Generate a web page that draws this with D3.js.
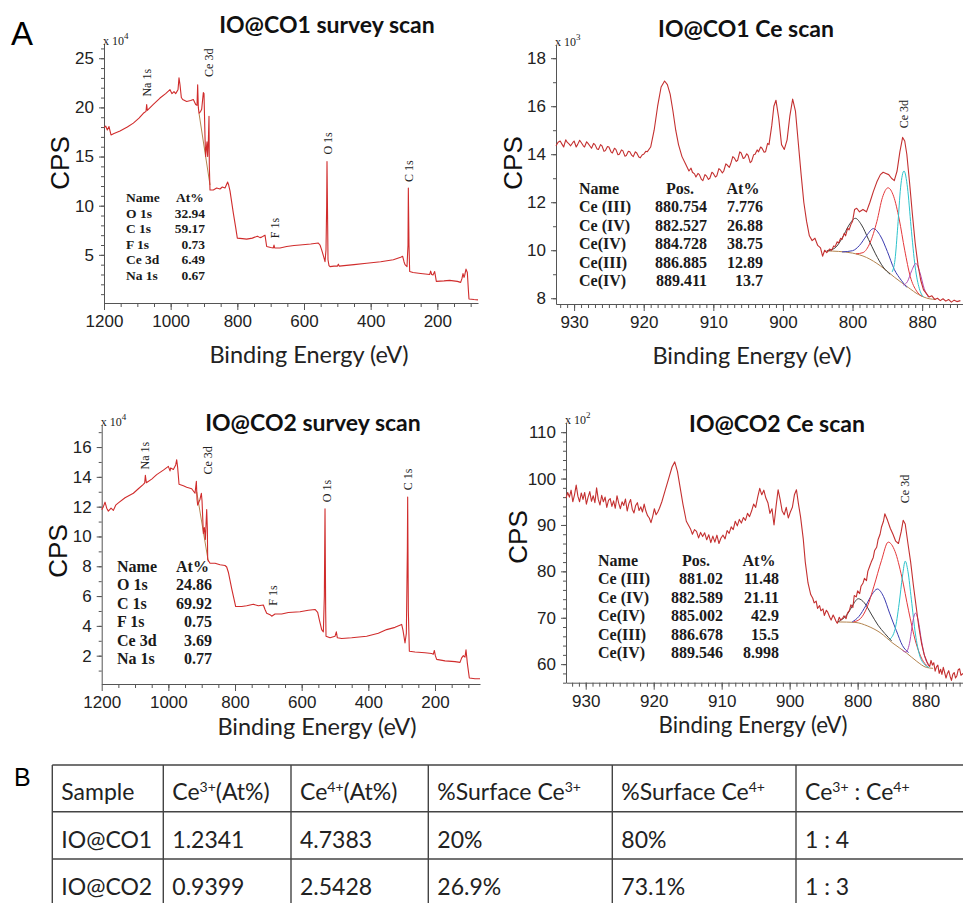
<!DOCTYPE html>
<html>
<head>
<meta charset="utf-8">
<script src="https://cdn.jsdelivr.net/npm/d3@7"></script>
<style>
    body { margin: 0; background: #fff; }
    .axis text { font-family: "Liberation Sans", Arial, sans-serif; font-size: 17px; fill: #222; }
    .axis line, .axis path { stroke: #555; stroke-width: 1; }
    .title { font-family: Lato, sans-serif; font-weight: bold; font-size: 23px; fill: #111; }
    .xLabel { font-family: Lato, sans-serif; font-size: 23.5px; fill: #222; }
    .yLabel { font-family: "Liberation Sans", Arial, sans-serif; font-size: 26px; fill: #111; }
    .note { font-family: "Liberation Serif", "Times New Roman", serif; fill: #222; }
    .fitTable { font-family: "Liberation Serif", "Times New Roman", serif; font-weight: bold; fill: #1a1a1a; }
    .tbl { font-family: Lato, sans-serif; font-size: 23px; fill: #222; }
</style>
</head>
<body>
<div id="figure"></div>
<script>

// ---------- survey scans (binding energy eV, CPS x10^4) ----------
const survey1 = [[1200,17.95],[1195,18.1],[1190,17.7],[1185,18.05],[1179,17.2],[1170,17.35],[1152,17.6],[1130,18.0],[1112,18.4],
    [1095,18.9],[1082,19.4],[1074,19.6],[1072,20.3],[1070,19.7],[1052,20.3],[1032,20.95],[1015,21.4],[1002,21.8],[996,21.4],
    [990,21.6],[985,21.4],[978,21.8],[975,23.0],[972,22.3],[968,21.0],[964,20.8],[952,20.6],[940,20.7],[932,20.8],[925,20.3],
    [921,20.2],[919,22.3],[917,20.0],[915,19.4],[910,19.6],[907,19.8],[902,21.5],[900,21.4],[897,17.0],[895,15.0],[893,15.8],
    [891,16.5],[889,15.0],[887,16.5],[885,19.1],[884,14.0],[882,11.6],[872,11.6],[862,11.8],[852,11.7],[845,11.9],[837,11.8],
    [829,12.4],[826,12.1],[822,11.5],[812,9.25],[805,7.8],[800,6.7],[785,6.65],[772,6.6],[755,6.7],[740,6.9],[737,6.85],
    [732,6.75],[727,6.8],[720,6.95],[717,7.0],[712,5.85],[700,5.75],[692,5.7],[690,6.0],[688,5.7],[672,5.7],[652,5.85],
    [630,5.95],[612,6.0],[580,6.1],[557,6.2],[552,6.0],[547,5.5],[540,4.7],[537,4.3],[534,5.5],[532,10.0],[531,14.5],
    [529,8.0],[528,4.5],[525,3.9],[522,3.8],[510,3.85],[500,3.85],[497,4.05],[494,3.85],[480,3.9],[450,4.0],[412,4.15],
    [370,4.3],[332,4.5],[310,4.75],[304,4.85],[300,4.3],[297,4.0],[291,3.8],[288,6.0],[287,11.8],[285,6.0],[283,3.3],
    [273,3.2],[250,3.1],[223,3.0],[220,3.35],[217,3.0],[213,2.95],[208,3.3],[205,2.7],[203,2.3],[180,2.35],[163,2.4],
    [140,2.3],[130,2.2],[126,2.6],[123,3.1],[120,2.7],[118,2.9],[114,3.55],[110,3.2],[107,1.5],[105,0.5],[90,0.45],[78,0.42]];
const survey1Bg = [[915,19.4],[882,12.1]];

const survey2 = [[1200,11.8],[1195,12.0],[1190,12.3],[1185,11.9],[1180,11.7],[1172,11.9],[1165,11.75],[1158,12.1],[1150,12.25],
    [1130,12.6],[1105,12.9],[1090,13.2],[1075,13.5],[1071,13.6],[1069,14.1],[1066,13.6],[1050,13.85],[1035,14.15],[1015,14.45],
    [1000,14.7],[995,14.4],[993,14.6],[985,14.5],[978,14.8],[975,15.15],[972,14.6],[968,13.5],[955,13.4],[945,13.3],[930,13.2],
    [920,12.9],[916,13.7],[914,12.5],[912,12.1],[905,12.5],[901,12.9],[899,12.4],[895,10.2],[892,10.6],[889,9.8],[887,10.8],
    [885,11.8],[883,10.5],[882,8.45],[875,8.2],[860,8.2],[845,8.1],[830,8.05],[825,7.95],[820,7.6],[810,6.5],[805,6.0],
    [798,5.3],[780,5.3],[765,5.35],[745,5.45],[730,5.35],[715,5.4],[710,5.1],[705,4.85],[695,4.75],[690,4.65],[680,4.8],
    [660,4.8],[640,4.9],[605,4.95],[580,5.05],[560,5.1],[552,4.9],[547,4.4],[540,3.75],[535,3.6],[532,6.0],[530,11.85],
    [528,5.0],[527,3.3],[515,3.2],[500,3.3],[496,3.6],[493,3.2],[480,3.15],[450,3.2],[405,3.3],[370,3.5],[345,3.75],
    [320,3.9],[300,4.1],[296,3.7],[290,2.85],[286,3.5],[283,9.0],[282,12.65],[280,5.0],[277,2.3],[260,2.25],[230,2.2],
    [210,2.15],[205,2.1],[202,2.35],[199,2.0],[195,1.75],[170,1.65],[140,1.6],[125,1.55],[120,1.85],[115,2.0],[110,1.9],
    [107,2.4],[103,1.5],[97,0.5],[80,0.45],[65,0.45]];
const survey2Bg = [[915,13.0],[880,8.3]];

// peak labels: [text, energy, cps at start of text]
const survey1Peaks = [["Na 1s",1072,21.1],["Ce 3d",885,23.1],["F 1s",687,6.7],["O 1s",528,15.2],["C 1s",285,12.4]];
const survey2Peaks = [["Na 1s",1070,14.5],["Ce 3d",881,14.15],["F 1s",686,5.35],["O 1s",524,12.3],["C 1s",281,13.1]];

// quantification tables printed in the survey panels
const survey1Quant = [["O 1s","32.94"],["C 1s","59.17"],["F 1s","0.73"],["Ce 3d","6.49"],["Na 1s","0.67"]];
const survey2Quant = [["O 1s","24.86"],["C 1s","69.92"],["F 1s","0.75"],["Ce 3d","3.69"],["Na 1s","0.77"]];

// ---------- Ce 3d scans ----------
// IO@CO1, CPS x10^3
const ce1 = [[932.6,14.35],[932.3,14.5],[932.0,14.55],[931.7,14.4],[931.5,14.3],[931.2,14.6],[931.0,14.5],[930.7,14.42],
    [930.5,14.35],[930.2,14.48],[930.0,14.55],[929.7,14.3],[929.5,14.4],[929.2,14.58],[929.0,14.5],[928.7,14.36],[928.5,14.3],
    [928.2,14.52],[928.0,14.45],[927.7,14.33],[927.5,14.25],[927.2,14.45],[927.0,14.4],[926.7,14.22],[926.5,14.2],[926.2,14.4],
    [926.0,14.35],[925.7,14.12],[925.5,14.15],[925.2,14.32],[925.0,14.3],[924.7,14.1],[924.5,14.05],[924.2,14.25],[924.0,14.2],
    [923.7,13.98],[923.5,14.0],[923.2,14.18],[923.0,14.15],[922.7,13.92],[922.5,13.95],[922.2,14.12],[922.0,14.1],[921.7,13.95],
    [921.5,13.9],[921.2,14.1],[921.0,14.05],[920.7,13.88],[920.5,13.85],[920.2,13.98],[920.0,14.0],[919.7,14.12],[919.5,14.1],
    [919.0,14.3],[918.5,15.0],[918.0,16.0],[917.5,16.8],[917.0,17.05],[916.6,16.9],[916.2,16.5],[915.8,15.8],
    [915.4,15.0],[915.0,14.4],[914.5,13.9],[914.0,13.6],[913.5,13.3],[913.2,13.42],[913.0,13.25],[912.7,13.18],[912.5,13.05],
    [912.2,13.2],[912.0,13.15],[911.7,12.95],[911.5,12.9],[911.2,13.15],[911.0,13.1],[910.7,12.95],[910.5,13.0],[910.2,13.25],
    [910.0,13.2],[909.7,13.05],[909.5,13.1],[909.2,13.4],[909.0,13.35],[908.7,13.22],[908.5,13.3],[908.2,13.6],[908.0,13.55],
    [907.7,13.45],[907.5,13.6],[907.2,13.9],[907.0,13.85],[906.7,13.7],[906.5,13.75],[906.2,14.1],[906.0,14.05],[905.7,13.82],
    [905.5,13.85],[905.2,14.02],[905.0,13.95],[904.7,13.65],[904.5,13.7],[904.2,13.98],[904.0,14.0],[903.7,14.18],[903.5,14.1],
    [903.2,14.3],[903.0,14.25],[902.7,14.08],[902.5,14.1],[902.2,14.45],[902.0,14.4],[901.6,15.2],[901.3,16.0],[901.0,16.25],
    [900.6,15.5],[900.2,14.4],[899.8,14.2],[899.4,14.6],[899.0,15.6],[898.6,16.3],[898.2,15.8],[897.8,14.5],[897.4,13.2],
    [897.0,12.0],[896.6,11.2],[896.2,10.6],[895.8,10.4],[895.4,10.5],[895.0,10.2],[894.6,10.1],[894.3,9.75],[894.0,10.0],
    [893.7,9.9],[893.3,10.05],[893.0,10.0],[892.7,10.18],[892.5,10.15],[892.2,10.35],[892.0,10.3],[891.7,10.5],[891.5,10.45],
    [891.2,10.7],[891.0,10.6],[890.7,10.92],[890.5,10.85],[890.2,11.1],[890.0,11.2],[889.7,11.7],[889.4,11.75],[889.0,11.6],
    [888.5,11.7],[888.0,11.6],[887.5,12.0],[887.0,12.45],[886.5,12.85],[886.0,13.15],[885.6,13.25],[885.2,13.2],[884.8,13.15],
    [884.4,13.0],[884.0,12.9],[883.6,13.3],[883.2,14.1],[882.8,14.7],[882.5,14.55],[882.2,14.0],[881.8,12.8],[881.4,11.5],
    [881.0,10.3],[880.6,9.4],[880.2,8.75],[879.8,8.35],[879.4,8.2],[879.0,8.05],[878.6,8.1],[878.2,7.95],[877.8,8.0],
    [877.4,7.9],[877.0,7.98],[876.6,7.88],[876.2,7.95],[875.8,7.84],[875.4,7.92],[875.0,7.86],[874.5,7.9]];
const ce1Bg = [[893.7,9.97],[892,9.95],[890,9.88],[888,9.7],[886,9.35],[884,8.88],[882,8.45],[880.5,8.15],[879,7.98],[878,7.95]];
const ce1PeakIV889 = [[893.7,9.97],[892.5,10.1],[891.5,10.5],[890.5,11.05],[889.6,11.33],[888.7,11.05],[887.7,10.45],[886.7,9.85],[885.6,9.3],[884.6,9.0]];
const ce1PeakIII887 = [[891.5,9.93],[890,9.98],[889,10.2],[888,10.6],[887,10.9],[886,10.6],[885,9.95],[884,9.2],[883,8.75],[882.2,8.45]];
const ce1PeakIV885 = [[889.5,9.85],[888.5,9.9],[887.5,10.3],[886.5,11.2],[885.7,12.2],[884.9,12.6],[884.1,12.25],[883.3,11.3],[882.5,10.0],[881.7,8.9],[880.8,8.3],[880,8.08]];
const ce1PeakIV883 = [[884.3,9.1],[883.9,9.6],[883.5,11.0],[883.1,12.6],[882.6,13.3],[882.1,12.6],[881.6,11.0],[881,9.3],[880.4,8.4],[879.8,8.05]];
const ce1PeakIII881 = [[882.7,8.55],[882.1,8.7],[881.5,9.15],[880.9,9.45],[880.3,9.05],[879.7,8.4],[879.1,8.05]];

// IO@CO2, CPS x10^2
const ce2 = [[932.9,95.8],[932.65,97.0],[932.4,96.0],[932.15,97.5],[931.9,95.0],[931.65,96.5],[931.4,98.6],[931.15,96.2],
    [930.9,95.0],[930.65,96.9],[930.4,95.5],[930.15,97.0],[929.9,94.5],[929.65,96.0],[929.4,97.2],[929.15,95.1],[928.9,96.3],
    [928.65,94.8],[928.4,98.0],[928.15,95.5],[927.9,94.3],[927.65,96.4],[927.4,95.0],[927.15,96.0],[926.9,93.8],[926.65,95.3],
    [926.4,95.7],[926.15,94.0],[925.9,95.2],[925.65,93.6],[925.4,96.3],[925.15,94.7],[924.9,93.5],[924.65,95.0],[924.4,94.2],
    [924.15,95.6],[923.9,93.0],[923.65,94.6],[923.4,95.5],[923.15,93.4],[922.9,92.6],[922.65,94.2],[922.4,94.8],[922.15,93.1],
    [921.9,93.9],[921.65,92.8],[921.4,94.5],[921.15,93.0],[920.9,92.0],[920.65,91.5],[920.4,90.5],[920.15,91.8],[919.9,93.5],
    [919.65,92.2],[919.4,92.8],[919.15,93.6],[918.8,95.0],[918.3,97.5],[917.8,100.0],[917.3,102.5],[916.9,103.6],[916.5,101.5],
    [916.1,98.0],[915.7,94.5],[915.2,90.8],[914.9,90.0],[914.6,89.2],[914.3,88.0],[914.0,89.0],[913.7,88.6],[913.4,87.2],
    [913.1,88.4],[912.8,87.5],[912.5,88.3],[912.2,86.8],[911.9,87.9],[911.6,86.2],[911.3,87.6],[911.0,86.3],[910.7,87.8],
    [910.4,86.0],[910.1,87.2],[909.8,87.8],[909.5,87.0],[909.2,88.8],[908.9,88.2],[908.6,89.6],[908.3,89.0],[908.0,90.8],
    [907.7,89.8],[907.4,91.2],[907.1,90.4],[906.8,91.6],[906.5,91.0],[906.2,92.5],[905.9,91.8],[905.6,93.0],[905.3,94.5],
    [905.0,93.8],[904.7,96.0],[904.4,97.9],[904.1,96.5],[903.8,97.5],[903.5,95.8],[903.2,94.8],[902.9,92.5],[902.6,93.5],
    [902.3,90.0],[902.0,94.0],[901.7,97.6],[901.4,95.5],[901.1,93.0],[900.8,92.2],[900.5,93.8],[900.2,91.5],[899.9,92.8],
    [899.6,93.8],[899.3,96.5],[899.0,97.6],[898.7,94.5],[898.4,91.8],[898.0,87.0],[897.7,82.0],[897.3,77.5],[896.9,75.0],
    [896.6,74.2],[896.4,73.2],[896.1,73.6],[895.9,72.0],[895.6,72.6],[895.4,71.5],[895.1,71.9],[894.9,70.5],[894.6,71.6],
    [894.4,71.2],[894.1,70.1],[893.9,69.5],[893.6,70.6],[893.4,70.0],[893.2,69.3],[893.0,68.8],[892.7,70.1],[892.5,69.5],
    [892.2,69.9],[892.0,70.4],[891.7,69.8],[891.5,71.0],[891.2,71.6],[891.0,72.8],[890.7,72.2],[890.5,74.8],[890.2,74.5],
    [890.0,75.8],[889.7,75.2],[889.5,76.8],[889.2,77.5],[889.0,78.5],[888.7,78.0],[888.5,80.0],[888.2,81.2],[888.0,82.0],
    [887.7,83.0],[887.5,84.5],[887.2,85.2],[887.0,86.8],[886.7,88.0],[886.5,89.5],[886.2,90.8],[886.0,92.4],[885.6,91.0],
    [885.2,89.3],[884.8,88.0],[884.4,86.5],[884.0,86.0],[883.6,88.5],[883.3,91.0],[883.0,90.2],[882.6,86.0],[882.2,82.0],
    [881.8,77.0],[881.4,72.5],[881.0,68.0],[880.6,64.5],[880.2,62.0],[879.8,60.5],[879.6,59.9],[879.4,59.5],[879.2,60.8],
    [879.0,59.8],[878.8,60.3],[878.6,58.5],[878.4,59.4],[878.2,59.8],[878.0,58.0],[877.8,58.9],[877.6,57.8],[877.4,59.3],
    [877.2,58.2],[877.0,57.0],[876.8,58.0],[876.6,58.6],[876.4,57.4],[876.2,56.5],[876.0,57.8],[875.8,58.2],[875.6,57.0],
    [875.4,57.5],[875.2,58.8],[875.0,59.0],[874.8,57.6],[874.5,58.0]];
const ce2Bg = [[892.9,69.1],[890.4,69.0],[888.5,68.2],[886.7,66.8],[884.8,64.5],[882.8,62.4],[881.3,60.6],[879.9,59.3],[878.9,59.1]];
const ce2PeakIV890 = [[892.9,69.1],[891.4,71.0],[890.8,72.5],[889.9,74.1],[889.0,73.2],[888.0,70.8],[887.0,68.4],[886.0,66.6],[885.0,65.0]];
const ce2PeakIII887 = [[890.8,69.1],[889.8,70.3],[888.8,72.6],[887.9,75.0],[887.1,76.2],[886.2,74.6],[885.3,71.0],[884.3,67.2],[883.4,64.0],[882.5,62.5]];
const ce2PeakIV885 = [[890.6,69.1],[889.6,69.8],[888.6,72.3],[887.6,76.8],[886.5,82.3],[885.5,86.3],[884.5,84.3],[883.5,78.8],[882.5,71.5],[881.5,65.0],[880.5,61.0],[879.7,59.5]];
const ce2PeakIV883 = [[885.3,65.3],[884.5,67.5],[883.9,73.0],[883.4,79.0],[883.0,82.2],[882.6,80.0],[882.1,74.0],[881.5,66.5],[880.9,62.0],[880.2,60.0],[879.5,59.3]];
const ce2PeakIII881 = [[883.4,63.0],[882.9,62.6],[882.3,65.0],[881.9,69.0],[881.5,71.0],[881.1,69.5],[880.6,65.0],[880.1,61.5],[879.5,59.6]];

// fit result tables: [name, position, at%]
const ce1Fit = [["Ce (III)","880.754","7.776"],["Ce (IV)","882.527","26.88"],["Ce(IV)","884.728","38.75"],["Ce(III)","886.885","12.89"],["Ce(IV)","889.411","13.7"]];
const ce2Fit = [["Ce (III)","881.02","11.48"],["Ce (IV)","882.589","21.11"],["Ce(IV)","885.002","42.9"],["Ce(III)","886.678","15.5"],["Ce(IV)","889.546","8.998"]];

// tick values and their printed labels
const surveyXTicks = [1200, 1000, 800, 600, 400, 200];
const surveyXLabels = ["1200", "1000", "800", "600", "400", "200"];
const ceXTicks = [930, 920, 910, 900, 890, 880];
const ceXLabels = ["930", "920", "910", "900", "800", "880"];
const survey1YTicks = [5, 10, 15, 20, 25];
const survey2YTicks = [2, 4, 6, 8, 10, 12, 14, 16];
const ce1YTicks = [8, 10, 12, 14, 16, 18];
const ce2YTicks = [60, 70, 80, 90, 100, 110];

// table B
const tableHeaders = ["Sample", "Ce|3+|(At%)", "Ce|4+|(At%)", "%Surface Ce|3+|", "%Surface Ce|4+|", "Ce|3+| : Ce|4+|"];
const tableRows = [
    ["IO@CO1", "1.2341", "4.7383", "20%", "80%", "1 : 4"],
    ["IO@CO2", "0.9399", "2.5428", "26.9%", "73.1%", "1 : 3"]
];

const fitColors = ["#3d3d3d", "#3b3bb0", "#e5383b", "#2cc3cc", "#b04cb4"];
const bgColor = "#b3844f";

/* * * * * * * * * * * * * *
*        SpectrumVis        *
* * * * * * * * * * * * * */

class SpectrumVis {

    constructor(svg, cfg) {
        this.svg = svg;
        this.cfg = cfg;
        this.initVis();
    }

    initVis() {
        let vis = this;
        let c = vis.cfg;

        vis.g = vis.svg.append("g");

        vis.x = d3.scaleLinear().domain(c.xDomain).range(c.xRange);
        vis.y = d3.scaleLinear().domain(c.yDomain).range(c.yRange);

        vis.line = d3.line()
            .x(d => vis.x(d[0]))
            .y(d => vis.y(d[1]));

        vis.smooth = d3.line()
            .x(d => vis.x(d[0]))
            .y(d => vis.y(d[1]))
            .curve(d3.curveMonotoneX);

        vis.drawAxes();
        vis.drawLines();
        vis.drawText();
    }

    drawAxes() {
        let vis = this;
        let c = vis.cfg;
        let y0 = c.yRange[0];
        let x0 = c.xRange[0];

        // minor ticks first
        vis.g.append("g")
            .attr("class", "axis")
            .attr("transform", "translate(0," + y0 + ")")
            .call(d3.axisBottom(vis.x).tickValues(c.xMinor).tickSize(4).tickSizeOuter(0).tickFormat(""))
            .call(g => g.select(".domain").remove());

        vis.g.append("g")
            .attr("class", "axis")
            .attr("transform", "translate(0," + y0 + ")")
            .call(d3.axisBottom(vis.x).tickValues(c.xTicks).tickSize(7).tickPadding(5).tickSizeOuter(0)
                .tickFormat((d, i) => c.xTickLabels[i]));

        vis.g.append("g")
            .attr("class", "axis")
            .attr("transform", "translate(" + x0 + ",0)")
            .call(d3.axisLeft(vis.y).tickValues(c.yMinor).tickSize(3).tickSizeOuter(0).tickFormat(""))
            .call(g => g.select(".domain").remove());

        vis.g.append("g")
            .attr("class", "axis")
            .attr("transform", "translate(" + x0 + ",0)")
            .call(d3.axisLeft(vis.y).tickValues(c.yTicks).tickSize(5).tickPadding(5).tickSizeOuter(0));

        // multiplier label, e.g. "x 10^4"
        let m = vis.g.append("text")
            .attr("class", "note")
            .attr("x", x0 - 1)
            .attr("y", c.yRange[1] + 1)
            .style("font-size", "12px");
        m.append("tspan").text("x 10");
        m.append("tspan").attr("dy", -6).style("font-size", "9px").text(c.power);
    }

    drawLines() {
        let vis = this;
        let c = vis.cfg;

        (c.background || []).forEach(bg => {
            vis.g.append("path")
                .datum(bg)
                .attr("fill", "none")
                .attr("stroke", bgColor)
                .attr("stroke-width", 1)
                .attr("d", c.fits ? vis.smooth : vis.line);
        });

        (c.fits || []).forEach((f, i) => {
            vis.g.append("path")
                .datum(f)
                .attr("fill", "none")
                .attr("stroke", fitColors[i])
                .attr("stroke-width", 1)
                .attr("d", vis.smooth);
        });

        vis.g.append("path")
            .datum(c.data)
            .attr("fill", "none")
            .attr("stroke", c.color)
            .attr("stroke-width", 1.1)
            .attr("stroke-linejoin", "round")
            .attr("d", vis.line);
    }

    drawText() {
        let vis = this;
        let c = vis.cfg;

        vis.g.append("text")
            .attr("class", "title")
            .attr("text-anchor", "middle")
            .attr("x", c.title[1])
            .attr("y", c.title[2])
            .text(c.title[0]);

        vis.g.append("text")
            .attr("class", "xLabel")
            .attr("text-anchor", "middle")
            .attr("x", c.xLabelPos[0])
            .attr("y", c.xLabelPos[1])
            .style("font-size", c.xLabelSize + "px")
            .text("Binding Energy (eV)");

        vis.g.append("text")
            .attr("class", "yLabel")
            .attr("text-anchor", "middle")
            .attr("transform", "translate(" + c.yLabelPos[0] + "," + c.yLabelPos[1] + ") rotate(-90)")
            .attr("dy", "0.36em")
            .text("CPS");

        // rotated peak names
        vis.g.selectAll(".peak")
            .data(c.peaks)
            .enter().append("text")
            .attr("class", "note peak")
            .attr("transform", d => "translate(" + vis.x(d[1]) + "," + vis.y(d[2]) + ") rotate(-90)")
            .attr("dy", "0.35em")
            .style("font-size", "12px")
            .text(d => d[0]);

        // quantification table inside the plot
        let t = c.table;
        let head = vis.g.append("g").attr("class", "fitTable").style("font-size", t.size + "px");
        head.append("text").attr("x", t.nameX).attr("y", t.top).text("Name");
        t.headers.forEach((h, i) => {
            head.append("text")
                .attr("x", h[1]).attr("y", t.top)
                .attr("text-anchor", h[2])
                .text(h[0]);
        });
        t.rows.forEach((r, j) => {
            let yy = t.top + (j + 1) * t.step;
            head.append("text").attr("x", t.nameX).attr("y", yy).text(r[0]);
            t.colRight.forEach((xr, k) => {
                head.append("text")
                    .attr("x", xr).attr("y", yy)
                    .attr("text-anchor", "end")
                    .text(r[k + 1]);
            });
        });
    }
}

let svg = d3.select("#figure").append("svg")
    .attr("width", 963)
    .attr("height", 903)
    .style("display", "block")
    .style("background", "#fff");

let survey1Vis = new SpectrumVis(svg, {
    data: survey1, color: "#d02c2c", background: [survey1Bg],
    xDomain: [1200, 78], xRange: [104, 478],
    yDomain: [0.1, 26.5], yRange: [303, 43.5],
    xTicks: surveyXTicks, xTickLabels: surveyXLabels, xMinor: d3.range(1150, 78, -50),
    yTicks: survey1YTicks, yMinor: d3.range(1, 27, 1), power: "4",
    title: ["IO@CO1 survey scan", 327, 33], xLabelPos: [309, 363], xLabelSize: 23.5, yLabelPos: [60, 163],
    peaks: survey1Peaks,
    table: { size: 13.5, nameX: 126, top: 202, step: 15.6, headers: [["At%", 176, "start"]],
        colRight: [205], rows: survey1Quant }
});

let ce1Vis = new SpectrumVis(svg, {
    data: ce1, color: "#c43030", background: [ce1Bg],
    fits: [ce1PeakIV889, ce1PeakIII887, ce1PeakIV885, ce1PeakIV883, ce1PeakIII881],
    xDomain: [932.6, 874], xRange: [556, 963.9],
    yDomain: [7.76, 18.55], yRange: [304, 45],
    xTicks: ceXTicks, xTickLabels: ceXLabels, xMinor: d3.range(932, 874, -1),
    yTicks: ce1YTicks, yMinor: d3.range(8, 19, 1), power: "3",
    title: ["IO@CO1 Ce scan", 746, 37], xLabelPos: [752, 364], xLabelSize: 23.5, yLabelPos: [513, 163],
    peaks: [["Ce 3d", 882.7, 15.08]],
    table: { size: 16, nameX: 579, top: 194, step: 18.4, headers: [["Pos.", 680, "middle"], ["At%", 743, "middle"]],
        colRight: [707, 763], rows: ce1Fit }
});

let survey2Vis = new SpectrumVis(svg, {
    data: survey2, color: "#d02c2c", background: [survey2Bg],
    xDomain: [1200, 65], xRange: [101.7, 480],
    yDomain: [0.1, 17.5], yRange: [684, 424.7],
    xTicks: surveyXTicks, xTickLabels: surveyXLabels, xMinor: d3.range(1150, 65, -50),
    yTicks: survey2YTicks, yMinor: d3.range(1, 18, 1), power: "4",
    title: ["IO@CO2 survey scan", 313, 431], xLabelPos: [317, 735], xLabelSize: 23.5, yLabelPos: [58, 551],
    peaks: survey2Peaks,
    table: { size: 16, nameX: 117, top: 572, step: 18.4, headers: [["At%", 176, "start"]],
        colRight: [212], rows: survey2Quant }
});

let ce2Vis = new SpectrumVis(svg, {
    data: ce2, color: "#c43030", background: [ce2Bg],
    fits: [ce2PeakIV890, ce2PeakIII887, ce2PeakIV885, ce2PeakIV883, ce2PeakIII881],
    xDomain: [932.9, 874.5], xRange: [566, 963],
    yDomain: [56, 112], yRange: [682.7, 422.9],
    xTicks: ceXTicks, xTickLabels: ceXLabels, xMinor: d3.range(932, 874, -1),
    yTicks: ce2YTicks, yMinor: d3.range(56, 112, 2), power: "2",
    title: ["IO@CO2 Ce scan", 777, 432], xLabelPos: [753, 733], xLabelSize: 22.3, yLabelPos: [518, 537],
    peaks: [["Ce 3d", 883.0, 94.7]],
    table: { size: 16, nameX: 598, top: 566, step: 18.4, headers: [["Pos.", 696, "middle"], ["At%", 759, "middle"]],
        colRight: [723, 779], rows: ce2Fit }
});

// panel letters
svg.append("text").attr("x", 11).attr("y", 45)
    .style("font-family", "Liberation Sans, Arial, sans-serif").style("font-size", "33px").text("A");
svg.append("text").attr("x", 14).attr("y", 786)
    .style("font-family", "Liberation Sans, Arial, sans-serif").style("font-size", "25px").text("B");

// ---------- table B ----------
const colX = [52.3, 163.3, 291, 428.3, 612.3, 796];
const rowY = [765, 811.7, 859, 906];
let tbl = svg.append("g");

rowY.forEach(y => {
    tbl.append("line").attr("x1", colX[0]).attr("x2", 963).attr("y1", y).attr("y2", y)
        .attr("stroke", "#444").attr("stroke-width", 1.4);
});
colX.forEach(x => {
    tbl.append("line").attr("x1", x).attr("x2", x).attr("y1", rowY[0]).attr("y2", rowY[3])
        .attr("stroke", "#444").attr("stroke-width", 1.4);
});

tableHeaders.forEach((h, i) => {
    let t = tbl.append("text").attr("class", "tbl").attr("x", colX[i] + 9).attr("y", 800);
    h.split("|").forEach((part, k) => {
        if (k % 2 === 1) {
            t.append("tspan").attr("dy", -8).style("font-size", "14px").text(part);
        } else {
            t.append("tspan").attr("dy", k > 0 ? 8 : 0).text(part);
        }
    });
});

tableRows.forEach((r, j) => {
    r.forEach((v, i) => {
        tbl.append("text").attr("class", "tbl")
            .attr("x", colX[i] + 9)
            .attr("y", 848 + j * 47)
            .text(v);
    });
});

</script>
</body>
</html>
